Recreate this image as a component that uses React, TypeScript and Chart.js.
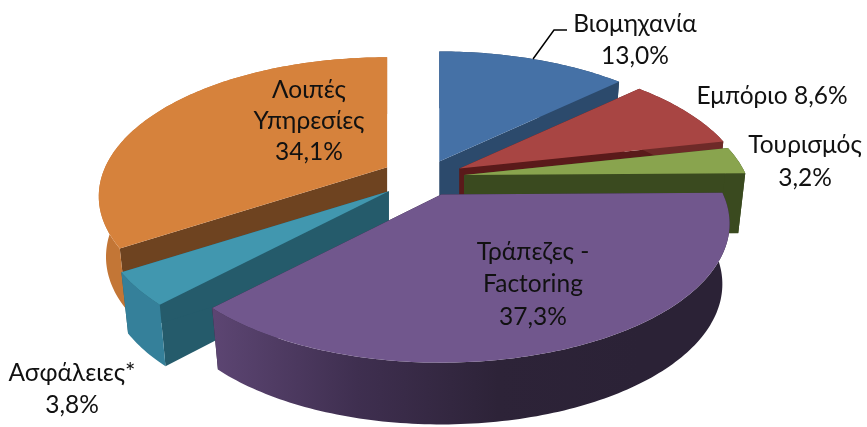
import React, { useEffect, useRef } from "react";
import { Chart, registerables } from "chart.js";

Chart.register(...registerables);

const categories = ["Βιομηχανία", "Εμπόριο", "Τουρισμός", "Τράπεζες - Factoring", "Ασφάλειες*", "Λοιπές Υπηρεσίες"];
const shares = [13.0, 8.6, 3.2, 37.3, 3.8, 34.1];
const explodeOffsets = [84, 90, 90, 90, 105, 100];
const topColors = ["#4571A6", "#A84543", "#89A44E", "#71578D", "#4197AF", "#D6823C"];
const radialWallColors = ["#2C4A6C", "#5A1A1A", "#3A4A1F", "#2D2338", "#255B6B", "#6E4320"];
const outerWallColors: string[][] = [["#2C4A6C"], ["#6E2A28"], ["#3A4A1F"], ["#5C4572", "#3F2F50", "#2D2338", "#2B2236"], ["#35809A"], ["#C37636"]];
const paintOrder = [0, 5, 1, 2, 4, 3];

const labelLines = [["Βιομηχανία", "13,0%"], ["Εμπόριο 8,6%"], ["Τουρισμός", "3,2%"], ["Τράπεζες -", "Factoring", "37,3%"], ["Ασφάλειες*", "3,8%"], ["Λοιπές", "Υπηρεσίες", "34,1%"]];
const labelAnchors = [[635, 24], [772, 96], [805, 145], [533, 252], [72, 373], [309, 90]];
const lineGap = [32, 32, 33, 32.5, 32, 31];

const view = { cx: 425, cy: 177, rx: 282, ry: 133, k: 0.209, depth: 60, depthV: 0.1, shrink: 0.975 };

const pie3d = {
  id: "pie3d",
  beforeDatasetsDraw(chart: any) {
    const ctx = chart.ctx as CanvasRenderingContext2D;
    const arcs = chart.getDatasetMeta(0).data;
    const project = (u: number, v: number) => {
      const w = 1 - view.k * v;
      return [(view.rx * u) / w, (view.ry * v) / w];
    };
    paintOrder.forEach((i) => {
      const arc = arcs[i];
      const a0 = arc.startAngle;
      const a1 = arc.endAngle;
      const mid = (a0 + a1) / 2;
      const o = arc.options.offset / 4 / arc.outerRadius;
      const [ax, ay] = project(o * Math.cos(mid), o * Math.sin(mid));
      const apex = [view.cx + ax, view.cy + ay];
      const depthAt = (v: number) => view.depth * (1 + view.depthV * v);
      const rim: number[][] = [];
      const floor: number[][] = [];
      const steps = Math.max(4, Math.ceil(((a1 - a0) * 180) / Math.PI));
      for (let s = 0; s <= steps; s++) {
        const a = a0 + ((a1 - a0) * s) / steps;
        const [dx, dy] = project(Math.cos(a), Math.sin(a));
        rim.push([apex[0] + dx, apex[1] + dy]);
        floor.push([apex[0] + dx * view.shrink, apex[1] + dy * view.shrink + depthAt(Math.sin(a))]);
      }
      const apexFloor = [apex[0], apex[1] + depthAt(0)];
      const poly = (pts: number[][], fill: string | CanvasGradient) => {
        ctx.beginPath();
        pts.forEach((p, n) => (n ? ctx.lineTo(p[0], p[1]) : ctx.moveTo(p[0], p[1])));
        ctx.closePath();
        ctx.fillStyle = fill;
        ctx.fill();
      };
      poly([apex, rim[0], floor[0], apexFloor], radialWallColors[i]);
      poly([apex, rim[steps], floor[steps], apexFloor], radialWallColors[i]);
      const stops = outerWallColors[i];
      let wallFill: string | CanvasGradient = stops[0];
      if (stops.length > 1) {
        const g = ctx.createLinearGradient(215, 0, 640, 0);
        stops.forEach((c, n) => g.addColorStop(n / (stops.length - 1), c));
        wallFill = g;
      }
      poly([...rim, ...floor.slice().reverse()], wallFill);
      poly([apex, ...rim], arc.options.backgroundColor);
    });

    ctx.beginPath();
    ctx.moveTo(533, 59);
    ctx.lineTo(554, 30);
    ctx.lineTo(567, 30);
    ctx.strokeStyle = "#000000";
    ctx.lineWidth = 1.5;
    ctx.stroke();

    ctx.fillStyle = "#111111";
    ctx.font = '24.5px Lato, "Noto Sans", sans-serif';
    ctx.textAlign = "center";
    ctx.textBaseline = "middle";
    labelLines.forEach((lines, i) => {
      lines.forEach((t, n) => ctx.fillText(t, labelAnchors[i][0], labelAnchors[i][1] + n * lineGap[i]));
    });
    return false;
  },
};

export default function App() {
  const ref = useRef<HTMLCanvasElement>(null);
  useEffect(() => {
    document.body.style.margin = "0";
    document.body.style.background = "#ffffff";
    const chart = new Chart(ref.current!, {
      type: "pie",
      data: {
        labels: categories,
        datasets: [{ data: shares, backgroundColor: topColors, borderWidth: 0, offset: explodeOffsets }],
      },
      options: {
        responsive: false,
        animation: false,
        plugins: { legend: { display: false }, tooltip: { enabled: false } },
      },
      plugins: [pie3d],
    } as any);
    return () => chart.destroy();
  }, []);
  return <canvas ref={ref} width={867} height={427} style={{ display: "block" }} />;
}
